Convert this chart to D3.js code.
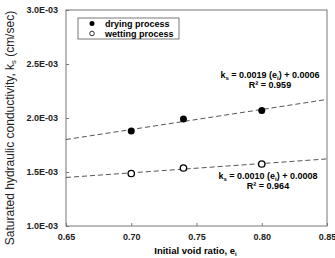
<!DOCTYPE html>
<html>
<head>
<meta charset="utf-8">
<script src="https://cdn.jsdelivr.net/npm/d3@7"></script>
<style>
  body { margin: 0; background: #fff; }
  svg { font-family: "Liberation Sans", Arial, sans-serif; }
</style>
</head>
<body>
<svg id="chart" width="335" height="258"></svg>
<script>
// Data
const void_ratio = [0.70, 0.74, 0.80];
const drying_ks = [0.00188, 0.00199, 0.00207];
const wetting_ks = [0.001486, 0.001537, 0.001574];
const x_ticks = [0.65, 0.70, 0.75, 0.80, 0.85];
const y_ticks = [0.0010, 0.0015, 0.0020, 0.0025, 0.0030];
const drying_eq = ["0.0019 (e", ") + 0.0006", "R² = 0.959"];
const wetting_eq = ["0.0010 (e", ") + 0.0008", "R² = 0.964"];

const svg = d3.select("#chart");
const margin = { left: 66, right: 8, top: 10, bottom: 32 };
const width = 335, height = 258;

const x = d3.scaleLinear().domain([0.65, 0.85]).range([margin.left, width - margin.right]);
const y = d3.scaleLinear().domain([0.001, 0.003]).range([height - margin.bottom, margin.top]);

// Least squares trendline
function fit(xs, ys) {
  const mx = d3.mean(xs), my = d3.mean(ys);
  const sxy = d3.sum(xs, (d, i) => (d - mx) * (ys[i] - my));
  const sxx = d3.sum(xs, d => (d - mx) * (d - mx));
  const b = sxy / sxx;
  return { b: b, a: my - b * mx };
}

// Axes
const xAxis = svg.append("g")
  .attr("transform", "translate(0," + y.range()[0] + ")")
  .call(d3.axisBottom(x).tickValues(x_ticks).tickFormat(d3.format(".2f")).tickSizeInner(-3).tickSizeOuter(0).tickPadding(8));
const yAxis = svg.append("g")
  .attr("transform", "translate(" + margin.left + ",0)")
  .call(d3.axisLeft(y).tickValues(y_ticks).tickFormat(d => d3.format(".1e")(d).replace("e-3", "E-03")).tickSizeInner(-3).tickSizeOuter(0).tickPadding(8));

[xAxis, yAxis].forEach(a => {
  a.select(".domain").remove();
  a.selectAll("line").attr("stroke", "#777");
  a.selectAll("text").attr("font-size", 9).attr("font-weight", "bold").attr("fill", "#222");
});

// Frame
svg.append("rect")
  .attr("x", x.range()[0]).attr("y", y.range()[1])
  .attr("width", x.range()[1] - x.range()[0])
  .attr("height", y.range()[0] - y.range()[1])
  .attr("fill", "none").attr("stroke", "#777").attr("stroke-width", 1);

// Trendlines
[drying_ks, wetting_ks].forEach(ks => {
  const f = fit(void_ratio, ks);
  svg.append("line")
    .attr("x1", x(0.65)).attr("y1", y(f.a + f.b * 0.65))
    .attr("x2", x(0.85)).attr("y2", y(f.a + f.b * 0.85))
    .attr("stroke", "#555").attr("stroke-width", 1)
    .attr("stroke-dasharray", "5,3");
});

// Points
svg.selectAll("circle.dry")
  .data(void_ratio)
  .enter().append("circle")
  .attr("class", "dry")
  .attr("cx", d => x(d)).attr("cy", (d, i) => y(drying_ks[i]))
  .attr("r", 3.5).attr("fill", "#000");

svg.selectAll("circle.wet")
  .data(void_ratio)
  .enter().append("circle")
  .attr("class", "wet")
  .attr("cx", d => x(d)).attr("cy", (d, i) => y(wetting_ks[i]))
  .attr("r", 3.2).attr("fill", "#fff").attr("stroke", "#000").attr("stroke-width", 1.3);

// Legend
const legend = svg.append("g");
legend.append("rect")
  .attr("x", 78).attr("y", 18).attr("width", 101).attr("height", 21)
  .attr("fill", "#fff").attr("stroke", "#555").attr("stroke-width", 0.8);
legend.append("circle").attr("cx", 92).attr("cy", 23.5).attr("r", 2.5).attr("fill", "#000");
legend.append("circle").attr("cx", 92).attr("cy", 33.5).attr("r", 2.3).attr("fill", "#fff").attr("stroke", "#000").attr("stroke-width", 0.8);
legend.append("text").attr("x", 105).attr("y", 27).attr("font-size", 9).attr("font-weight", "bold").text("drying process");
legend.append("text").attr("x", 105).attr("y", 37).attr("font-size", 9).attr("font-weight", "bold").text("wetting process");

// Equations
function equation(cx, yb, eq) {
  const t = svg.append("text").attr("x", cx).attr("y", yb).attr("text-anchor", "middle")
    .attr("font-size", 9).attr("font-weight", "bold");
  t.append("tspan").text("k");
  t.append("tspan").attr("font-size", 6).attr("dy", 2).text("s");
  t.append("tspan").attr("dy", -2).text(" = " + eq[0]);
  t.append("tspan").attr("font-size", 6).attr("dy", 2).text("i");
  t.append("tspan").attr("dy", -2).text(eq[1]);
  svg.append("text").attr("x", cx).attr("y", yb + 10).attr("text-anchor", "middle")
    .attr("font-size", 9).attr("font-weight", "bold").text(eq[2]);
}
equation(270, 78, drying_eq);
equation(268, 179, wetting_eq);

// Axis titles
const xt = svg.append("text").attr("x", (x.range()[0] + x.range()[1]) / 2 - 1).attr("y", 254)
  .attr("text-anchor", "middle").attr("font-size", 9.5).attr("font-weight", "bold");
xt.append("tspan").text("Initial void ratio, e");
xt.append("tspan").attr("font-size", 6).attr("dy", 2).text("i");

const yt = svg.append("text")
  .attr("transform", "translate(14,128) rotate(-90)")
  .attr("text-anchor", "middle").attr("font-size", 12).attr("fill", "#222");
yt.append("tspan").text("Saturated hydraulic conductivity, k");
yt.append("tspan").attr("font-size", 7.5).attr("dy", 2).text("s");
yt.append("tspan").attr("dy", -2).text(" (cm/sec)");
</script>
</body>
</html>
